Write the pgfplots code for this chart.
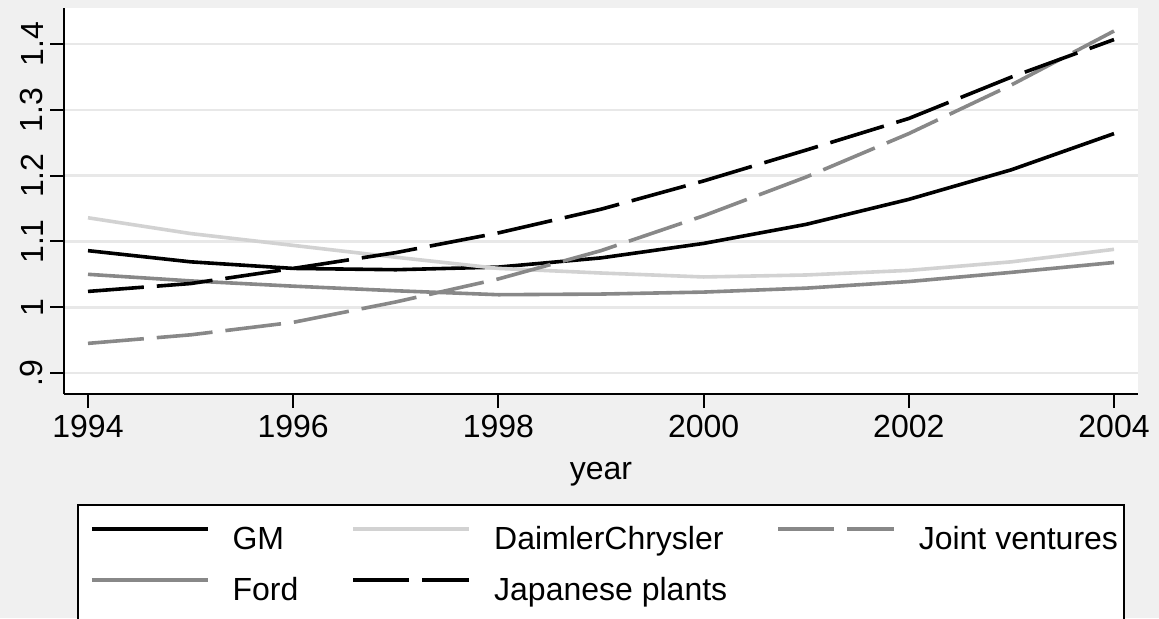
\documentclass[border=0pt]{standalone}
\usepackage{pgfplots}
\pgfplotsset{compat=1.18}
\usepackage{fontspec}
\setmainfont{Liberation Sans}
\definecolor{bg}{RGB}{240,240,240}
\definecolor{gridc}{RGB}{232,232,232}
\definecolor{dcgray}{RGB}{210,210,210}
\definecolor{fordgray}{RGB}{136,136,136}
\definecolor{jvgray}{RGB}{136,136,136}
\newcommand{\fs}{\fontsize{16}{19}\selectfont}
\begin{document}
\begin{tikzpicture}
\clip (0,0) rectangle (579.5pt,309pt);
\fill[bg] (0,0) rectangle (579.5pt,309pt);
\begin{axis}[
  at={(32pt,112pt)}, anchor=south west,
  scale only axis, width=537pt, height=193pt,
  xmin=1993.766, xmax=2004.234, ymin=0.868, ymax=1.455,
  axis lines=left,
  axis line style={-, line width=1pt, black},
  axis background/.style={fill=white},
  tick align=outside,
  major tick length=7pt,
  tick style={line width=1pt, black},
  xtick={1994,1996,1998,2000,2002,2004},
  xticklabels={1994,1996,1998,2000,2002,2004},
  ytick={0.9,1,1.1,1.2,1.3,1.4},
  yticklabels={.9,1,1.1,1.2,1.3,1.4},
  ymajorgrids,
  major grid style={gridc, line width=1.3pt},
  tick label style={font=\fs},
  yticklabel style={rotate=90, anchor=south},
  xlabel={year},
  xlabel style={font=\fs, at={(axis description cs:0.5,0)}, anchor=base, yshift=-42.5pt},
  legend columns=3,
  legend cell align=left,
  legend style={at={(0.0121,-0.285)}, anchor=north west, draw=black, line width=1pt, fill=white,
    inner xsep=6pt, inner ysep=10pt, font=\fs,
    nodes={inner sep=0pt, text height=12pt, text depth=3.5pt},
    row sep=10pt,
    /tikz/every odd column/.style={column sep=11.5pt},
    /tikz/every even column/.style={column sep=0pt}},
  legend image code/.code={\draw[#1, line width=1.8pt] (0pt,5.7pt) -- (58pt,5.7pt);},
  every axis plot/.append style={line width=1.8pt},
]
\addplot[black] coordinates {(1994,1.086) (1995,1.069) (1996,1.059) (1997,1.057) (1998,1.061) (1999,1.075) (2000,1.097) (2001,1.126) (2002,1.164) (2003,1.209) (2004,1.264)};
\addlegendentry{\makebox[59.5pt][l]{GM}}
\addplot[dcgray] coordinates {(1994,1.136) (1995,1.112) (1996,1.094) (1997,1.076) (1998,1.059) (1999,1.052) (2000,1.046) (2001,1.049) (2002,1.056) (2003,1.069) (2004,1.088)};
\addlegendentry{\makebox[141pt][l]{DaimlerChrysler}}
\addplot[jvgray, dash pattern=on 28pt off 6.5pt] coordinates {(1994,0.945) (1995,0.958) (1996,0.977) (1997,1.008) (1998,1.043) (1999,1.086) (2000,1.139) (2001,1.198) (2002,1.264) (2003,1.338) (2004,1.420)};
\addlegendentry{\makebox[96.5pt][l]{Joint ventures}}
\addplot[fordgray] coordinates {(1994,1.050) (1995,1.040) (1996,1.032) (1997,1.025) (1998,1.019) (1999,1.020) (2000,1.023) (2001,1.029) (2002,1.039) (2003,1.053) (2004,1.068)};
\addlegendentry{\makebox[59.5pt][l]{Ford}}
\addplot[black, dash pattern=on 28pt off 6.5pt] coordinates {(1994,1.024) (1995,1.036) (1996,1.059) (1997,1.083) (1998,1.113) (1999,1.149) (2000,1.192) (2001,1.239) (2002,1.287) (2003,1.350) (2004,1.407)};
\addlegendentry{\makebox[141pt][l]{Japanese plants}}
\end{axis}
\end{tikzpicture}
\end{document}
